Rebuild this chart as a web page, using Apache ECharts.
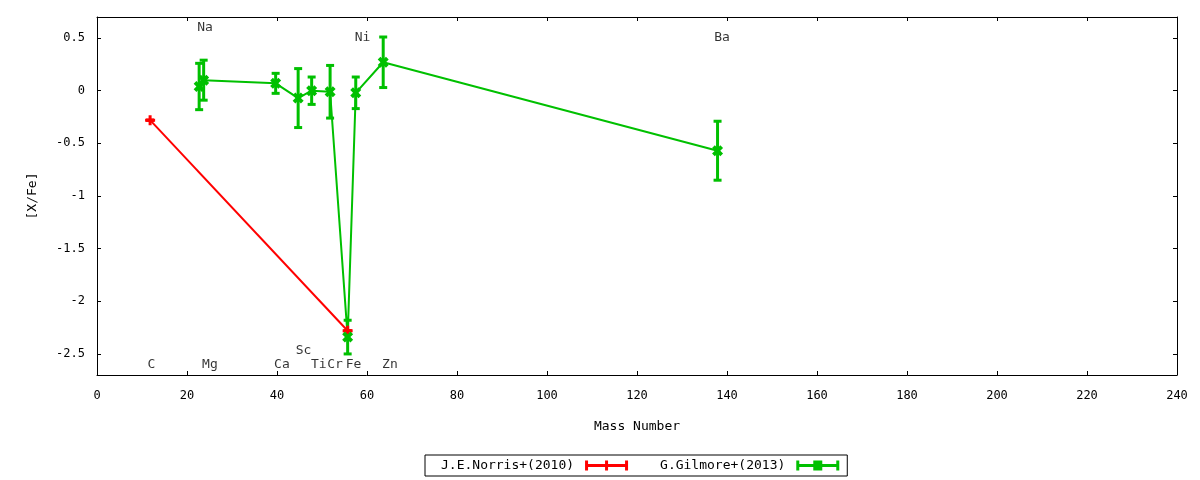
<!doctype html>
<html>
<head>
  <meta charset="utf-8">
  <title>[X/Fe] vs Mass Number</title>
  <script src="https://cdn.jsdelivr.net/npm/echarts@6/dist/echarts.min.js"></script>
  <style>
    html, body { margin: 0; padding: 0; background: #fff; }
    #chart { width: 1200px; height: 480px; }
  </style>
</head>
<body>
  <div id="chart"></div>
  <script>
    // J.E.Norris+(2010)
    const massNorris = [11.8, 55.7];
    const xfeNorris = [-0.28, -2.28];
    const errNorris = [0, 0];

    // G.Gilmore+(2013): Na Mg Ca Sc Ti Cr Fe Ni Zn Ba
    const massGilmore = [22.7, 23.7, 39.7, 44.7, 47.7, 51.8, 55.7, 57.5, 63.6, 137.9];
    const xfeGilmore = [0.04, 0.10, 0.07, -0.07, 0.0, -0.01, -2.34, -0.02, 0.27, -0.57];
    const errGilmore = [0.22, 0.19, 0.095, 0.28, 0.13, 0.25, 0.16, 0.15, 0.24, 0.28];

    // element labels
    const labelNames = ['C', 'Na', 'Mg', 'Ca', 'Sc', 'Ti', 'Cr', 'Fe', 'Ni', 'Zn', 'Ba'];
    const labelX = [12.1, 24.0, 25.1, 41.1, 45.9, 49.3, 52.9, 57.0, 59.0, 65.1, 138.9];
    const labelY = [-2.6, 0.6, -2.6, -2.6, -2.47, -2.6, -2.6, -2.6, 0.5, -2.6, 0.5];

    const yTicks = [0.5, 0, -0.5, -1, -1.5, -2, -2.5];

    const RED = '#ff0000';
    const GREEN = '#00c000';
    const NORRIS = 'J.E.Norris+(2010)';
    const GILMORE = 'G.Gilmore+(2013)';

    const plusPath = 'path://M3.5,0H6.5V3.5H10V6.5H6.5V10H3.5V6.5H0V3.5H3.5Z';
    const crossPath = 'path://M0,2.5L2.5,0L5,2.5L7.5,0L10,2.5L7.5,5L10,7.5L7.5,10L5,7.5L2.5,10L0,7.5L2.5,5Z';

    function legendIcon(midW) {
      const a = 21.5 - midW / 2, b = 21.5 + midW / 2;
      return 'path://M0,3.5H43V6.5H0Z M0,0H3V10H0Z M40,0H43V10H40Z M' + a + ',0H' + b + 'V10H' + a + 'Z';
    }

    function errorSeries(name, color, masses, vals, errs) {
      return {
        name: name,
        type: 'custom',
        silent: true,
        z: 3,
        data: masses.map((m, i) => [m, vals[i] - errs[i], vals[i] + errs[i]]),
        encode: { x: 0, y: [1, 2] },
        renderItem: function (params, api) {
          const lo = api.coord([api.value(0), api.value(1)]);
          const hi = api.coord([api.value(0), api.value(2)]);
          const w = 4;
          const style = { stroke: color, lineWidth: 3 };
          return {
            type: 'group',
            children: [
              { type: 'line', shape: { x1: lo[0], y1: lo[1], x2: hi[0], y2: hi[1] }, style: style },
              { type: 'line', shape: { x1: lo[0] - w, y1: lo[1], x2: lo[0] + w, y2: lo[1] }, style: style },
              { type: 'line', shape: { x1: hi[0] - w, y1: hi[1], x2: hi[0] + w, y2: hi[1] }, style: style }
            ]
          };
        }
      };
    }

    const chart = echarts.init(document.getElementById('chart'));
    const option = {
      animation: false,
      backgroundColor: '#fff',
      textStyle: { fontFamily: 'DejaVu Sans Mono', fontSize: 13, color: '#000' },
      grid: { left: 97, right: 23, top: 17, bottom: 105 },
      legend: {
        left: 425,
        top: 455,
        align: 'right',
        padding: [4, 8, 4, 16],
        itemGap: 32,
        itemWidth: 43,
        itemHeight: 10,
        symbolKeepAspect: false,
        borderColor: '#000',
        borderWidth: 1,
        borderRadius: 0,
        textStyle: { fontFamily: 'DejaVu Sans Mono', fontSize: 13, color: '#000', padding: [0, 6, 0, 0] },
        data: [
          { name: NORRIS, icon: legendIcon(3), itemStyle: { color: RED } },
          { name: GILMORE, icon: legendIcon(9), itemStyle: { color: GREEN } }
        ]
      },
      xAxis: [{
        type: 'value',
        min: 0,
        max: 240,
        interval: 20,
        position: 'bottom',
        name: 'Mass Number',
        nameLocation: 'middle',
        nameGap: 45,
        nameTextStyle: { fontFamily: 'DejaVu Sans Mono', fontSize: 13, color: '#000' },
        axisLine: { onZero: false, lineStyle: { color: '#000', width: 1 } },
        axisTick: { inside: true, length: 4, lineStyle: { color: '#000' } },
        axisLabel: { margin: 15, color: '#000' },
        splitLine: { show: false }
      }, {
        type: 'value',
        min: 0,
        max: 240,
        interval: 20,
        position: 'top',
        axisLine: { onZero: false, lineStyle: { color: '#000', width: 1 } },
        axisTick: { inside: true, length: 4, lineStyle: { color: '#000' } },
        axisLabel: { show: false },
        splitLine: { show: false }
      }],
      yAxis: [{
        type: 'value',
        min: -2.7,
        max: 0.7,
        position: 'left',
        name: '[X/Fe]',
        nameLocation: 'middle',
        nameGap: 58,
        nameTextStyle: { fontFamily: 'DejaVu Sans Mono', fontSize: 13, color: '#000' },
        axisLine: { onZero: false, lineStyle: { color: '#000', width: 1 } },
        axisTick: { inside: true, length: 4, customValues: yTicks, lineStyle: { color: '#000' } },
        axisLabel: { margin: 12, color: '#000', customValues: yTicks },
        splitLine: { show: false }
      }, {
        type: 'value',
        min: -2.7,
        max: 0.7,
        position: 'right',
        axisLine: { onZero: false, lineStyle: { color: '#000', width: 1 } },
        axisTick: { inside: true, length: 4, customValues: yTicks, lineStyle: { color: '#000' } },
        axisLabel: { show: false, customValues: yTicks },
        splitLine: { show: false }
      }],
      series: [
        errorSeries(NORRIS, RED, massNorris, xfeNorris, errNorris),
        {
          name: NORRIS,
          type: 'line',
          z: 4,
          data: massNorris.map((m, i) => [m, xfeNorris[i]]),
          symbol: plusPath,
          symbolSize: 10,
          itemStyle: { color: RED },
          lineStyle: { color: RED, width: 2 }
        },
        errorSeries(GILMORE, GREEN, massGilmore, xfeGilmore, errGilmore),
        {
          name: GILMORE,
          type: 'line',
          z: 4,
          data: massGilmore.map((m, i) => [m, xfeGilmore[i]]),
          symbol: crossPath,
          symbolSize: 11,
          itemStyle: { color: GREEN },
          lineStyle: { color: GREEN, width: 2 }
        },
        {
          name: 'labels',
          type: 'scatter',
          silent: true,
          symbolSize: 0,
          data: labelNames.map((n, i) => ({ name: n, value: [labelX[i], labelY[i]] })),
          label: {
            show: true,
            position: 'inside',
            formatter: '{b}',
            fontFamily: 'DejaVu Sans Mono',
            fontSize: 13,
            color: '#000'
          }
        }
      ]
    };
    chart.setOption(option);
  </script>
</body>
</html>
